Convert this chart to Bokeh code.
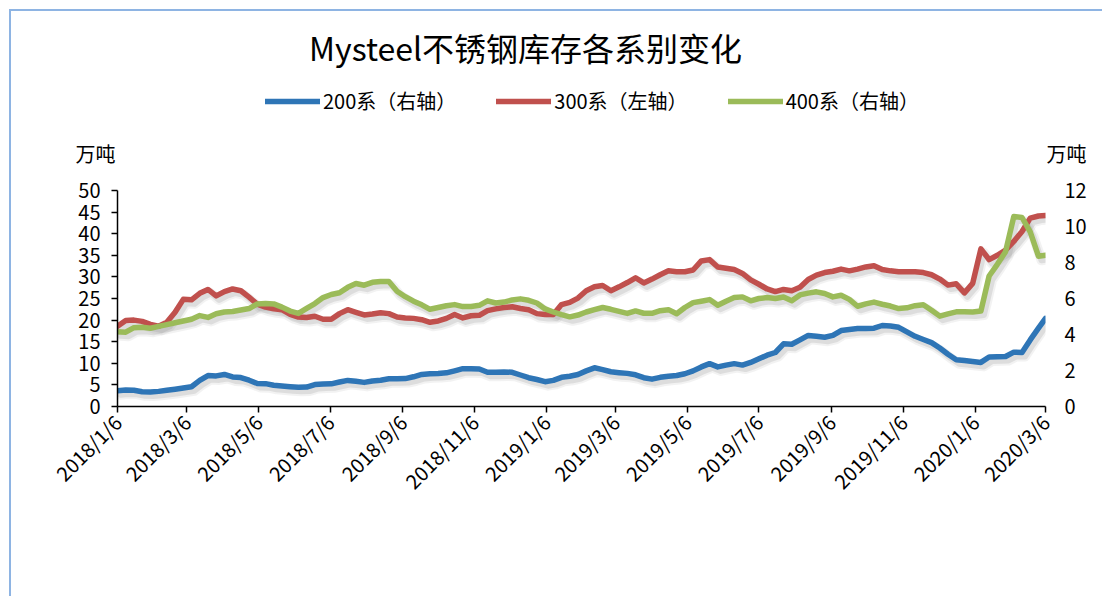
import math
import pandas as pd
from bokeh.plotting import figure
from bokeh.layouts import column
from bokeh.models import (Range1d, LinearAxis, FixedTicker, SingleIntervalTicker,
                          Legend, LegendItem, Label)
from bokeh.embed import file_html
from bokeh.resources import INLINE

FONT = "Noto Sans CJK SC"

# ---------------- data ----------------
dates = list(pd.date_range("2018-01-06", periods=113, freq="7D")) + [pd.Timestamp("2020-03-06")]

s200 = [0.88, 0.92, 0.90, 0.82, 0.80, 0.84, 0.90, 0.96, 1.03, 1.10,
        1.45, 1.72, 1.70, 1.78, 1.64, 1.61, 1.46, 1.28, 1.27, 1.18,
        1.14, 1.10, 1.07, 1.08, 1.22, 1.25, 1.26, 1.36, 1.45, 1.40,
        1.34, 1.42, 1.46, 1.54, 1.54, 1.55, 1.65, 1.78, 1.82, 1.83,
        1.87, 1.98, 2.10, 2.10, 2.08, 1.90, 1.90, 1.92, 1.90, 1.75,
        1.60, 1.50, 1.38, 1.45, 1.62, 1.68, 1.78, 1.98, 2.15, 2.05,
        1.93, 1.88, 1.84, 1.76, 1.60, 1.52, 1.62, 1.68, 1.72, 1.82,
        1.98, 2.20, 2.38, 2.20, 2.30, 2.38, 2.30, 2.45, 2.65, 2.85,
        3.00, 3.48, 3.46, 3.70, 3.95, 3.90, 3.85, 3.95, 4.22, 4.28,
        4.33, 4.33, 4.35, 4.50, 4.47, 4.40, 4.15, 3.90, 3.72, 3.55,
        3.25, 2.90, 2.60, 2.55, 2.50, 2.45, 2.75, 2.76, 2.78, 3.02,
        3.00, 3.70, 4.35, 4.89]

s300 = [18.6, 19.9, 20.0, 19.7, 19.0, 18.6, 19.5, 21.8, 24.8, 24.7,
        26.2, 27.1, 25.6, 26.6, 27.2, 26.8, 25.3, 23.7, 23.0, 22.6,
        22.4, 21.3, 20.7, 20.6, 20.9, 20.2, 20.2, 21.5, 22.4, 21.8,
        21.2, 21.4, 21.7, 21.5, 20.7, 20.5, 20.4, 20.1, 19.5, 19.8,
        20.4, 21.3, 20.5, 21.0, 21.1, 22.2, 22.6, 22.9, 23.1, 22.7,
        22.4, 21.5, 21.3, 21.3, 23.6, 24.1, 25.1, 26.8, 27.7, 28.0,
        26.8, 27.7, 28.7, 29.8, 28.6, 29.5, 30.5, 31.4, 31.2, 31.2,
        31.6, 33.7, 34.0, 32.3, 32.0, 31.7, 30.8, 29.3, 28.3, 27.2,
        26.6, 27.1, 26.8, 27.6, 29.4, 30.4, 31.0, 31.3, 31.8, 31.4,
        31.8, 32.3, 32.6, 31.7, 31.4, 31.2, 31.2, 31.2, 31.0, 30.5,
        29.5, 28.1, 28.4, 26.3, 28.5, 36.5, 34.0, 35.0, 36.2, 38.2,
        40.5, 43.6, 44.1, 44.2]

s400 = [4.15, 4.13, 4.38, 4.40, 4.35, 4.45, 4.55, 4.65, 4.75, 4.85,
        5.05, 4.95, 5.15, 5.25, 5.28, 5.36, 5.44, 5.70, 5.72, 5.70,
        5.52, 5.30, 5.17, 5.45, 5.72, 6.05, 6.22, 6.32, 6.62, 6.83,
        6.74, 6.90, 6.95, 6.95, 6.40, 6.10, 5.85, 5.65, 5.40, 5.50,
        5.60, 5.66, 5.55, 5.56, 5.62, 5.87, 5.75, 5.80, 5.92, 5.98,
        5.90, 5.75, 5.42, 5.25, 5.10, 4.98, 5.08, 5.25, 5.38, 5.50,
        5.40, 5.28, 5.17, 5.31, 5.18, 5.18, 5.32, 5.38, 5.15, 5.50,
        5.77, 5.85, 5.94, 5.63, 5.85, 6.05, 6.09, 5.87, 6.00, 6.05,
        6.00, 6.08, 5.88, 6.20, 6.30, 6.37, 6.28, 6.09, 6.18, 5.95,
        5.57, 5.70, 5.80, 5.68, 5.58, 5.44, 5.48, 5.60, 5.65, 5.35,
        5.02, 5.15, 5.26, 5.26, 5.25, 5.30, 7.25, 7.90, 8.60, 10.55,
        10.50, 9.70, 8.35, 8.40]

tick_labels = ["2018/1/6", "2018/3/6", "2018/5/6", "2018/7/6", "2018/9/6",
               "2018/11/6", "2019/1/6", "2019/3/6", "2019/5/6", "2019/7/6",
               "2019/9/6", "2019/11/6", "2020/1/6", "2020/3/6"]

title_text = "Mysteel不锈钢库存各系别变化"
unit_text = "万吨"
series_names = ["200系（右轴）", "300系（左轴）", "400系（右轴）"]
colors = ["#2E75B6", "#C0504D", "#9BBB59"]

# ---------------- geometry ----------------
W = 1085
TOP_W = 1093
TOP_H = 160
MAIN_H = 427
LW = 5.5
BORDER = "2px solid #8EB4E3"

# ---------------- header figure (title, legend, units) ----------------
top = figure(width=TOP_W, height=TOP_H, x_range=Range1d(0, TOP_W), y_range=Range1d(0, TOP_H),
             output_backend="svg", toolbar_location=None,
             x_axis_location=None, y_axis_location=None,
             min_border=0, min_border_left=0, min_border_right=0,
             min_border_top=0, min_border_bottom=0)
top.frame_align = False
top.grid.visible = False
top.outline_line_color = None
top.styles = {"border-left": BORDER, "border-top": BORDER}

nan = float("nan")
d200 = top.line([nan], [nan], line_width=LW, color=colors[0], line_cap="round")
d300 = top.line([nan], [nan], line_width=LW, color=colors[1], line_cap="round")
d400 = top.line([nan], [nan], line_width=LW, color=colors[2], line_cap="round")

legend = Legend(items=[LegendItem(label=series_names[0], renderers=[d200]),
                       LegendItem(label=series_names[1], renderers=[d300]),
                       LegendItem(label=series_names[2], renderers=[d400])],
                orientation="horizontal", location=(254, 56),
                glyph_width=55, glyph_height=24, label_height=24,
                label_standoff=3, spacing=40, padding=0, margin=0,
                border_line_color=None, background_fill_alpha=0,
                label_text_font=FONT, label_text_font_size="20px",
                label_text_color="black")
top.add_layout(legend)

top.add_layout(Label(x=514, y=125, text=title_text,
                     text_font=FONT, text_font_size="32px", text_align="center",
                     text_baseline="middle", text_color="black"))
top.add_layout(Label(x=84, y=18, text=unit_text,
                     text_font=FONT, text_font_size="20px", text_align="center",
                     text_baseline="middle", text_color="black"))
top.add_layout(Label(x=1055, y=18, text=unit_text,
                     text_font=FONT, text_font_size="20px", text_align="center",
                     text_baseline="middle", text_color="black"))

# ---------------- main figure ----------------
x_ms = [d.value / 1e6 for d in dates]
tick_ms = [int(pd.to_datetime(t, format="%Y/%m/%d").value // 10**6) for t in tick_labels]

x0, x1 = tick_ms[0], tick_ms[-1]
frame_w, frame_h = 928.0, 216.0
LMAX, RMAX = 50, 12
ML, MT = 106, 21

p = figure(width=W, height=MAIN_H, x_axis_type="datetime",
           x_range=Range1d(x0, x1), y_range=Range1d(0, LMAX),
           output_backend="svg", toolbar_location=None,
           min_border_left=ML, min_border_right=W - ML - int(frame_w),
           min_border_top=MT, min_border_bottom=MAIN_H - MT - int(frame_h))
p.frame_align = False
p.styles = {"border-left": BORDER}

# shadow ranges (offset right 3px, down 4px)
dx = 3 * (x1 - x0) / frame_w
dyl = 4 * LMAX / frame_h
dyr = 4 * RMAX / frame_h
p.extra_x_ranges = {"sx": Range1d(x0 - dx, x1 - dx)}
p.extra_y_ranges = {"right": Range1d(0, RMAX),
                    "sl": Range1d(dyl, LMAX + dyl),
                    "sr": Range1d(dyr, RMAX + dyr)}

p.grid.visible = False
p.outline_line_color = None

for ys, yr in ((s300, "sl"), (s200, "sr"), (s400, "sr")):
    p.line(x_ms, ys, x_range_name="sx", y_range_name=yr, line_width=10,
           color="#7f7f7f", alpha=0.10, line_join="round", line_cap="round")
    p.line(x_ms, ys, x_range_name="sx", y_range_name=yr, line_width=6,
           color="#7f7f7f", alpha=0.18, line_join="round", line_cap="round")

p.line(x_ms, s300, line_width=LW, color=colors[1], line_join="round", line_cap="round")
p.line(x_ms, s200, y_range_name="right", line_width=LW, color=colors[0],
       line_join="round", line_cap="round")
p.line(x_ms, s400, y_range_name="right", line_width=LW, color=colors[2],
       line_join="round", line_cap="round")

xa = p.xaxis[0]
xa.ticker = FixedTicker(ticks=tick_ms)
xa.major_label_overrides = dict(zip(tick_ms, tick_labels))
xa.major_label_orientation = math.pi / 4
xa.axis_line_color = "black"
xa.axis_line_width = 1.5
xa.major_tick_line_color = "black"
xa.major_tick_line_width = 1.5
xa.major_tick_in = 0
xa.major_tick_out = 6
xa.minor_tick_line_color = None
xa.major_label_standoff = 6
xa.major_label_text_font = FONT
xa.major_label_text_font_size = "20px"
xa.major_label_text_color = "black"

ya = p.yaxis[0]
ya.ticker = SingleIntervalTicker(interval=5, num_minor_ticks=0)
ya.axis_line_color = "black"
ya.axis_line_width = 1.5
ya.major_tick_line_color = "black"
ya.major_tick_line_width = 1.5
ya.major_tick_in = 0
ya.major_tick_out = 6
ya.minor_tick_line_color = None
ya.major_label_standoff = 11
ya.major_label_text_font = FONT
ya.major_label_text_font_size = "20px"
ya.major_label_text_color = "black"

yr_axis = LinearAxis(y_range_name="right",
                     ticker=SingleIntervalTicker(interval=2, num_minor_ticks=0))
yr_axis.axis_line_color = None
yr_axis.major_tick_line_color = None
yr_axis.minor_tick_line_color = None
yr_axis.major_tick_in = 0
yr_axis.major_tick_out = 0
yr_axis.major_label_standoff = 19
yr_axis.major_label_text_font = FONT
yr_axis.major_label_text_font_size = "20px"
yr_axis.major_label_text_color = "black"
p.add_layout(yr_axis, "right")

layout = column(top, p, spacing=0, margin=(9, 0, 0, 9))

open("out.html", "w").write(file_html(layout, INLINE))
